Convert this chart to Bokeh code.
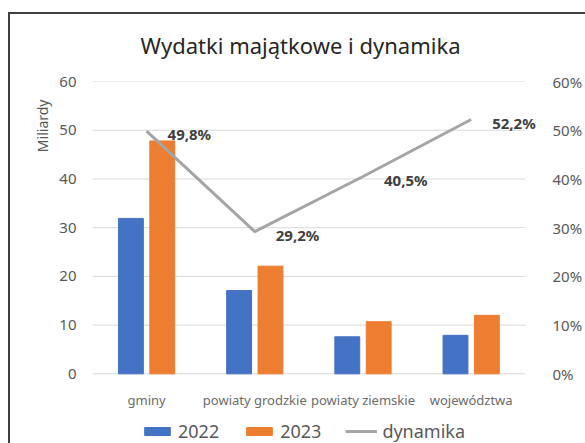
from bokeh.plotting import figure
from bokeh.models import (Range1d, LinearAxis, FixedTicker, PrintfTickFormatter,
                          ColumnDataSource, LabelSet, Legend, LegendItem, Title)
from bokeh.core.properties import value
from bokeh.transform import dodge
from bokeh.embed import file_html
from bokeh.resources import INLINE

categories = ["gminy", "powiaty grodzkie", "powiaty ziemskie", "województwa"]
v2022 = [31.9, 17.1, 7.6, 7.9]
v2023 = [47.8, 22.1, 10.7, 12.0]
dynamika = [49.8, 29.2, 40.5, 52.2]
left_ticks = [0, 10, 20, 30, 40, 50, 60]
right_ticks = [0, 10, 20, 30, 40, 50, 60]
dyn_labels = [f"{v:.1f}".replace(".", ",") + "%" for v in dynamika]
idx = list(range(len(categories)))

FONT = "Noto Sans"
GRAY = "#595959"
EDGE = "#404040"

src = ColumnDataSource(dict(idx=idx, cat=categories, v2022=v2022, v2023=v2023,
                            dyn=dynamika, lab=dyn_labels))

p = figure(x_range=Range1d(-0.5, len(categories) - 0.35),
           y_range=Range1d(-14.3, 60), width=577, height=437,
           output_backend="svg", toolbar_location=None,
           min_border_left=84, min_border_right=39,
           min_border_top=74, min_border_bottom=0)
# chart box edge (left and top lines) painted behind a transparent canvas
p.styles = {
    "margin-left": "8px", "margin-top": "6px",
    "background": (f"linear-gradient({EDGE},{EDGE}) 0 6px / 2px 100% no-repeat, "
                   f"linear-gradient({EDGE},{EDGE}) 0 6px / 100% 2px no-repeat, white"),
}
p.border_fill_color = None
p.background_fill_color = None
p.outline_line_color = None
p.extra_y_ranges = {"pct": Range1d(-14.3, 60)}

p.title.text = "Wydatki majątkowe i dynamika"
p.title.align = "left"
p.title.offset = 48
p.title.standoff = 43
p.title.text_font = FONT
p.title.text_font_size = "22px"
p.title.text_font_style = "normal"
p.title.text_color = "#262626"

# gridlines (left axis ticks), limited to the category area
p.ygrid.visible = False
p.xgrid.visible = False
p.segment(x0=-0.5, x1=len(categories) - 0.5, y0=left_ticks, y1=left_ticks,
          line_color="#d9d9d9", line_width=1, level="underlay")

r1 = p.vbar(x=dodge("idx", -0.145), top="v2022", width=0.23,
            color="#4472C4", source=src)
r2 = p.vbar(x=dodge("idx", 0.145), top="v2023", width=0.23,
            color="#ED7D31", source=src)
r3 = p.line(x="idx", y="dyn", y_range_name="pct", line_color="#A5A5A5",
            line_width=3, source=src)

labels = LabelSet(x="idx", y="dyn", text="lab", y_range_name="pct", source=src,
                  x_offset=21, y_offset=-3, text_baseline="middle",
                  text_align="left", text_font=value(FONT),
                  text_font_size=value("15px"), text_font_style=value("bold"),
                  text_color=value("#404040"))
p.add_layout(labels)

# left axis
p.yaxis.ticker = FixedTicker(ticks=left_ticks)
# right axis
right = LinearAxis(y_range_name="pct", ticker=FixedTicker(ticks=right_ticks),
                   formatter=PrintfTickFormatter(format="%d%%"))
p.add_layout(right, "right")

for ax in p.yaxis + [right]:
    ax.axis_line_color = None
    ax.major_tick_line_color = None
    ax.minor_tick_line_color = None
    ax.major_label_text_font = FONT
    ax.major_label_text_font_size = "15px"
    ax.major_label_text_color = GRAY
p.yaxis[0].major_label_standoff = 10
right.major_label_standoff = 5

# category axis sitting at y = 0
p.xaxis.fixed_location = 0
p.xaxis.ticker = FixedTicker(ticks=idx)
p.xaxis.major_label_overrides = {i: c for i, c in zip(idx, categories)}
p.xaxis.axis_line_color = None
p.xaxis.major_tick_line_color = None
p.xaxis.minor_tick_line_color = None
p.xaxis.major_label_text_font = FONT
p.xaxis.major_label_text_font_size = "13px"
p.xaxis.major_label_text_color = "#6b6b6b"
p.xaxis.major_label_standoff = 11

p.add_layout(Title(text="Miliardy", align="right", offset=18, standoff=10,
                   text_font=FONT, text_font_size="14px",
                   text_font_style="normal", text_color=GRAY), "left")

legend = Legend(items=[LegendItem(label="2022", renderers=[r1]),
                       LegendItem(label="2023", renderers=[r2]),
                       LegendItem(label="dynamika", renderers=[r3])],
                orientation="horizontal", location=(49, 0),
                glyph_width=32, glyph_height=10, label_standoff=5, spacing=24,
                padding=0, margin=0, border_line_color=None,
                background_fill_alpha=0, label_text_font=FONT,
                label_text_font_size="18px", label_text_color=GRAY)
p.add_layout(legend)

open("out.html", "w").write(file_html(p, INLINE))
